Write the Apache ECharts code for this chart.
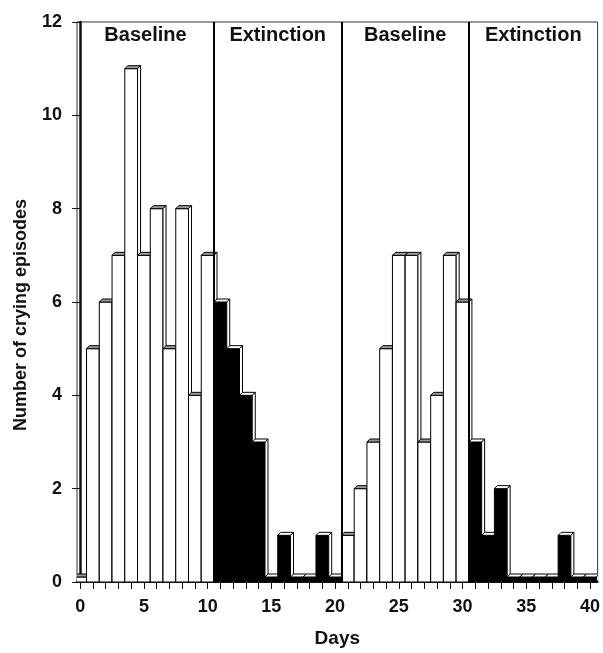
<!DOCTYPE html>
<html>
<head>
<meta charset="utf-8">
<script src="https://cdn.jsdelivr.net/npm/echarts@6/dist/echarts.min.js"></script>
<style>html,body{margin:0;padding:0;background:#fff;}#c{width:603px;height:653px;}</style>
</head>
<body>
<div id="c"></div>
<script>
const days = [0,1,2,3,4,5,6,7,8,9,10,11,12,13,14,15,16,17,18,19,20,21,22,23,24,25,26,27,28,29,30,31,32,33,34,35,36,37,38,39,40];
const cryingEpisodes = [0,5,6,7,11,7,8,5,8,4,7,6,5,4,3,0,1,0,0,1,0,1,2,3,5,7,7,3,4,7,6,3,1,2,0,0,0,0,1,0,0];
const phaseNames = ['Baseline','Extinction','Baseline','Extinction'];
const phaseStart = [-0.25, 10.5, 20.5, 30.5];
const phaseEnd = [10.5, 20.5, 30.5, 40.6];
const xTickValues = [0,1,2,3,4,5,6,7,8,9,10,11,12,13,14,15,16,17,18,19,20,21,22,23,24,25,26,27,28,29,30,31,32,33,34,35,36,37,38,39,40];
const xLabelValues = [0,5,10,15,20,25,30,35,40];

const FONT = "'Liberation Sans', Arial, sans-serif";

function isExtinction(d) {
  for (let i = 0; i < phaseNames.length; i++) {
    if (d > phaseStart[i] && d < phaseEnd[i]) return phaseNames[i] === 'Extinction';
  }
  return false;
}

const chart = echarts.init(document.getElementById('c'), null, {renderer: 'canvas'});

function renderItem(params, api) {
  const d = api.value(0), v = api.value(1);
  const p0 = api.coord([d - 0.5, 0]);
  const p1 = api.coord([d + 0.5, v]);
  const x = p0[0], w = p1[0] - p0[0];
  const bottom = p0[1];
  let top = p1[1];
  if (bottom - top < 5) top = bottom - 5;
  const dx = 3, dy = -3;
  const ext = isExtinction(d);
  const front = ext ? '#000' : '#fff';
  const topFill = ext ? '#fff' : '#9a9a9a';
  const stroke = {stroke: '#000', lineWidth: 1};
  return {
    type: 'group',
    children: [
      {type: 'rect', shape: {x: x, y: top, width: w, height: bottom - top},
       style: Object.assign({fill: front}, stroke)},
      {type: 'polygon', shape: {points: [[x, top], [x + dx, top + dy], [x + w + dx, top + dy], [x + w, top]]},
       style: Object.assign({fill: topFill}, stroke)},
      {type: 'polygon', shape: {points: [[x + w, top], [x + w + dx, top + dy], [x + w + dx, bottom + dy], [x + w, bottom]]},
       style: Object.assign({fill: '#fff'}, stroke)}
    ]
  };
}

const seriesData = days.map((d, i) => [d, cryingEpisodes[i]]);

const option = {
  backgroundColor: '#fff',
  animation: false,
  grid: {left: 77, right: 2, top: 22, bottom: 69, show: true, borderColor: '#333', borderWidth: 1},
  xAxis: {
    type: 'value', min: -0.25, max: 40.6,
    name: 'Days', nameLocation: 'middle', nameGap: 47,
    nameTextStyle: {fontFamily: FONT, fontSize: 19, fontWeight: 'bold', color: '#111'},
    axisLine: {show: true, lineStyle: {color: '#111', width: 2}},
    axisTick: {show: true, length: 7, customValues: xTickValues, lineStyle: {color: '#111', width: 1}},
    axisLabel: {customValues: xLabelValues, margin: 16, fontFamily: FONT, fontSize: 18, fontWeight: 'bold', color: '#111'},
    splitLine: {show: false}
  },
  yAxis: {
    type: 'value', min: 0, max: 12, interval: 2,
    name: 'Number of crying episodes', nameLocation: 'middle', nameGap: 47,
    nameTextStyle: {fontFamily: FONT, fontSize: 18, fontWeight: 'bold', color: '#111', padding: [0, 26, 0, 0]},
    axisLine: {show: true, lineStyle: {color: '#111', width: 2.5}},
    axisTick: {show: true, length: 8, lineStyle: {color: '#111', width: 1}},
    axisLabel: {margin: 15, fontFamily: FONT, fontSize: 18, fontWeight: 'bold', color: '#111'},
    splitLine: {show: false}
  },
  series: [{
    type: 'custom',
    clip: true,
    renderItem: renderItem,
    encode: {x: 0, y: 1},
    data: seriesData,
    markLine: {
      silent: true, symbol: 'none', animation: false,
      label: {show: false},
      lineStyle: {color: '#000', width: 2, type: 'solid'},
      data: phaseStart.slice(1).map(s => ({xAxis: s}))
    },
    markArea: {
      silent: true,
      itemStyle: {color: 'rgba(0,0,0,0)'},
      label: {show: true, position: 'insideTop', distance: 3, fontFamily: FONT, fontSize: 20, fontWeight: 'bold', color: '#111'},
      data: phaseNames.map((n, i) => [{name: n, xAxis: phaseStart[i]}, {xAxis: phaseEnd[i]}])
    }
  }]
};
chart.setOption(option);
</script>
</body>
</html>
